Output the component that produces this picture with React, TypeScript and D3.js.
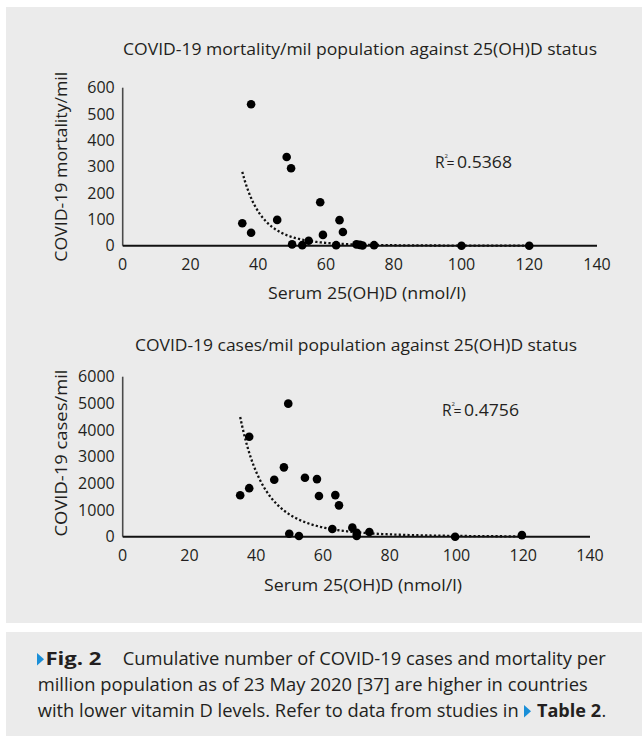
import React from "react";
import * as d3 from "d3";

// ---------- data ----------
const mortX = [35.3, 37.9, 37.9, 45.6, 48.4, 49.7, 50, 53, 54.9, 58.3, 59.1, 63, 64, 65, 69, 70, 70.8, 74.2, 100, 120];
const mortY = [85, 537, 49, 98, 337, 294, 5, 2, 19, 165, 41, 2, 97, 52, 5, 3, 1, 2, 0, 0];
const casesX = [35.2, 37.9, 37.9, 45.4, 48.3, 49.6, 49.9, 52.8, 54.6, 58.2, 58.8, 62.8, 63.7, 64.8, 68.8, 70.1, 70.1, 73.9, 99.6, 119.6];
const casesY = [1556, 1820, 3750, 2137, 2600, 4990, 112, 26, 2210, 2160, 1525, 290, 1560, 1175, 340, 150, 30, 175, 0, 60];
// power trendlines y = a * x^b
const mortTrend = [9.6e11, -6.16];
const casesTrend = [1.19e11, -4.8];
const xTicks = [0, 20, 40, 60, 80, 100, 120, 140];
const mortTicks = [0, 100, 200, 300, 400, 500, 600];
const casesTicks = [0, 1000, 2000, 3000, 4000, 5000, 6000];

const FONT = "'Open Sans', sans-serif";
const INK = "#231f20";

type PanelProps = {
  xs: number[];
  ys: number[];
  trend: number[];
  yTicks: number[];
  yMax: number;
  x0: number; x1: number; yTop: number; yBottom: number;
  title: string; titleX: number; titleY: number; titleLen: number;
  yLabel: string; yLabelCy: number; yLabelLen: number;
  xLabelCx: number; xLabelY: number;
  r2: string; r2X: number; r2Y: number;
  trendFrom: number; trendTo: number;
};

function Panel(p: PanelProps) {
  const x = d3.scaleLinear().domain([0, 140]).range([p.x0, p.x1]);
  const y = d3.scaleLinear().domain([0, p.yMax]).range([p.yBottom, p.yTop]);
  const trendPts = d3.range(p.trendFrom, p.trendTo + 0.001, 0.25).map((v) => [v, p.trend[0] * Math.pow(v, p.trend[1])]);
  const line = d3.line<number[]>().x((d) => x(d[0])).y((d) => y(d[1]));
  return (
    <g fontFamily={FONT} fill={INK}>
      <text x={p.titleX} y={p.titleY} dy="0.35em" textAnchor="middle" fontSize={16} textLength={p.titleLen} lengthAdjust="spacingAndGlyphs">{p.title}</text>
      {p.yTicks.map((t) => (
        <text key={t} x={p.x0 - 8} y={y(t)} dy="0.35em" textAnchor="end" fontSize={16}>{t}</text>
      ))}
      {xTicks.map((t) => (
        <text key={t} x={x(t)} y={p.yBottom + 19} dy="0.35em" textAnchor="middle" fontSize={16}>{t}</text>
      ))}
      <text transform={`translate(61,${p.yLabelCy}) rotate(-90)`} dy="0.35em" textAnchor="middle" fontSize={16.5} textLength={p.yLabelLen} lengthAdjust="spacingAndGlyphs">{p.yLabel}</text>
      <text x={p.xLabelCx} y={p.xLabelY} dy="0.35em" textAnchor="middle" fontSize={16.5} textLength={198} lengthAdjust="spacingAndGlyphs">Serum 25(OH)D (nmol/l)</text>
      <line x1={p.x0} x2={p.x0} y1={p.yTop} y2={p.yBottom} stroke="#4a4a4a" strokeWidth={1.6} />
      <line x1={p.x0} x2={p.x1} y1={p.yBottom} y2={p.yBottom} stroke="#111" strokeWidth={2} />
      <path d={line(trendPts) || ""} fill="none" stroke="#111" strokeWidth={2.3} strokeDasharray="2.2 2.2" />
      {p.xs.map((v, i) => (
        <circle key={i} cx={x(v)} cy={y(p.ys[i])} r={4.3} fill="#000" />
      ))}
      <text x={p.r2X} y={p.r2Y} dy="0.35em" fontSize={15.5}>R</text>
      <text x={p.r2X + 9.5} y={p.r2Y - 5} fontSize={6}>2</text>
      <text x={p.r2X + 11.5} y={p.r2Y} dy="0.35em" fontSize={15} textLength={8} lengthAdjust="spacingAndGlyphs">=</text>
      <text x={p.r2X + 22} y={p.r2Y} dy="0.35em" fontSize={15.5} textLength={55} lengthAdjust="spacingAndGlyphs">{p.r2}</text>
    </g>
  );
}

export default function App() {
  return (
    <svg width={642} height={736} style={{ position: "absolute", left: 0, top: 0 }}>
      <rect x={0} y={0} width={642} height={736} fill="#fff" />
      <rect x={6} y={7} width={636} height={616} fill="#ebebeb" />
      <rect x={6} y={632} width={636} height={104} fill="#ebebeb" />
      <Panel
        xs={mortX} ys={mortY} trend={mortTrend} yTicks={mortTicks} yMax={600}
        x0={122.7} x1={597} yTop={87.7} yBottom={245.7}
        title="COVID-19 mortality/mil population against 25(OH)D status" titleX={360} titleY={49} titleLen={474}
        yLabel="COVID-19 mortality/mil" yLabelCy={166.7} yLabelLen={190}
        xLabelCx={367} xLabelY={293}
        r2="0.5368" r2X={435} r2Y={163}
        trendFrom={35.3} trendTo={120}
      />
      <Panel
        xs={casesX} ys={casesY} trend={casesTrend} yTicks={casesTicks} yMax={6000}
        x0={122.7} x1={590} yTop={376.7} yBottom={536.7}
        title="COVID-19 cases/mil population against 25(OH)D status" titleX={356} titleY={345} titleLen={442}
        yLabel="COVID-19 cases/mil" yLabelCy={453} yLabelLen={167}
        xLabelCx={363} xLabelY={585}
        r2="0.4756" r2X={442} r2Y={411}
        trendFrom={35.2} trendTo={119.6}
      />
      <g fontFamily={FONT} fill={INK} fontSize={18}>
        <polygon points="37,653 37,665.5 44,659.2" fill="#1a8fd8" />
        <text x={45.5} y={665} fontWeight="bold" textLength={56} lengthAdjust="spacingAndGlyphs">Fig. 2</text>
        <text x={122.8} y={665} textLength={483} lengthAdjust="spacingAndGlyphs">Cumulative number of COVID-19 cases and mortality per</text>
        <text x={37.7} y={691} textLength={550} lengthAdjust="spacingAndGlyphs">million population as of 23 May 2020 [37] are higher in countries</text>
        <text x={37.7} y={717} textLength={481} lengthAdjust="spacingAndGlyphs">with lower vitamin D levels. Refer to data from studies in</text>
        <polygon points="524,705 524,717.5 531,711.2" fill="#1a8fd8" />
        <text x={537} y={717} fontWeight="bold" textLength={64} lengthAdjust="spacingAndGlyphs">Table 2</text>
        <text x={601.5} y={717}>.</text>
      </g>
    </svg>
  );
}
